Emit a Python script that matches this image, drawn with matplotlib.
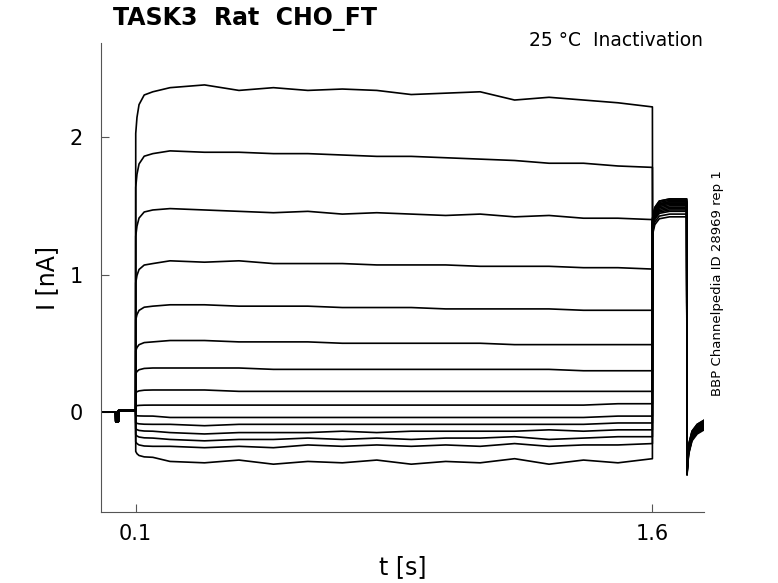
import numpy as np
import matplotlib.pyplot as plt

# holding segment before the step (same for all sweeps)
hold_t = [0.0, 0.042, 0.0425, 0.05, 0.0505, 0.1]
hold_i = [0.0, 0.0, -0.07, -0.07, 0.01, 0.01]

# activation at the start of the step, fraction of the early level
rise_t = [0.1004, 0.104, 0.11, 0.125]
rise_frac = [0.87, 0.92, 0.96, 0.99]

# step segment (nA)
pulse_t = [0.15, 0.2, 0.3, 0.4, 0.5, 0.6, 0.7, 0.8, 0.9, 1.0, 1.1, 1.2, 1.3, 1.4, 1.5, 1.6]
sweeps = [
    [2.33, 2.36, 2.38, 2.34, 2.36, 2.34, 2.35, 2.34, 2.31, 2.32, 2.33, 2.27, 2.29, 2.27, 2.25, 2.22],
    [1.88, 1.90, 1.89, 1.89, 1.88, 1.88, 1.87, 1.86, 1.86, 1.85, 1.84, 1.83, 1.81, 1.81, 1.79, 1.78],
    [1.47, 1.48, 1.47, 1.46, 1.45, 1.46, 1.44, 1.45, 1.44, 1.43, 1.44, 1.42, 1.43, 1.41, 1.41, 1.40],
    [1.08, 1.10, 1.09, 1.10, 1.08, 1.08, 1.08, 1.07, 1.07, 1.07, 1.06, 1.06, 1.06, 1.05, 1.05, 1.04],
    [0.77, 0.78, 0.78, 0.77, 0.77, 0.77, 0.76, 0.76, 0.76, 0.75, 0.75, 0.75, 0.75, 0.74, 0.74, 0.74],
    [0.51, 0.52, 0.52, 0.51, 0.51, 0.51, 0.50, 0.50, 0.50, 0.50, 0.50, 0.49, 0.49, 0.49, 0.49, 0.49],
    [0.32, 0.32, 0.32, 0.32, 0.31, 0.31, 0.31, 0.31, 0.31, 0.31, 0.31, 0.31, 0.31, 0.30, 0.30, 0.30],
    [0.16, 0.16, 0.16, 0.15, 0.15, 0.15, 0.15, 0.15, 0.15, 0.15, 0.15, 0.15, 0.15, 0.15, 0.15, 0.15],
    [0.05, 0.05, 0.05, 0.05, 0.05, 0.05, 0.05, 0.05, 0.05, 0.05, 0.05, 0.05, 0.05, 0.05, 0.06, 0.06],
    [-0.03, -0.04, -0.04, -0.04, -0.04, -0.04, -0.04, -0.04, -0.04, -0.04, -0.04, -0.04, -0.04, -0.04, -0.03, -0.03],
    [-0.09, -0.09, -0.10, -0.09, -0.09, -0.09, -0.09, -0.09, -0.09, -0.09, -0.09, -0.09, -0.09, -0.09, -0.08, -0.08],
    [-0.14, -0.15, -0.16, -0.15, -0.15, -0.15, -0.14, -0.15, -0.14, -0.14, -0.14, -0.14, -0.13, -0.14, -0.13, -0.13],
    [-0.19, -0.20, -0.21, -0.20, -0.20, -0.19, -0.20, -0.19, -0.20, -0.19, -0.19, -0.18, -0.20, -0.19, -0.18, -0.18],
    [-0.25, -0.25, -0.26, -0.25, -0.26, -0.24, -0.25, -0.24, -0.25, -0.24, -0.25, -0.23, -0.25, -0.24, -0.24, -0.23],
    [-0.33, -0.36, -0.37, -0.35, -0.38, -0.36, -0.37, -0.35, -0.38, -0.36, -0.37, -0.34, -0.38, -0.35, -0.37, -0.34],
]

# test pulse after the step
tail_t = [1.6005, 1.607, 1.62, 1.65, 1.675, 1.6995]
tail_frac = [0.91, 0.96, 0.99, 1.0, 1.0, 1.0]
tail_level = [1.42, 1.44, 1.46, 1.47, 1.48, 1.49, 1.50, 1.51, 1.52, 1.52, 1.53, 1.53, 1.54, 1.55, 1.55]

# back to holding
off_t = [1.7005, 1.705, 1.715, 1.73, 1.75]
off_i = [-0.42, -0.27, -0.17, -0.12, -0.09]
off_shift = [-0.04, -0.03, -0.03, -0.02, -0.02, -0.01, -0.01, 0.0, 0.0, 0.01, 0.01, 0.02, 0.02, 0.03, 0.03]

fig = plt.figure(figsize=(7.78, 5.83), dpi=100)
ax = fig.add_axes([0.130, 0.122, 0.775, 0.804])

for k, s in enumerate(sweeps):
    t = hold_t + rise_t + pulse_t + tail_t + off_t
    i = (hold_i
         + [f * s[0] for f in rise_frac]
         + s
         + [f * tail_level[k] for f in tail_frac]
         + [v + off_shift[k] for v in off_i])
    ax.plot(t, i, color='black', lw=1.2)

ax.set_xlim(0, 1.75)
ax.set_ylim(-0.727, 2.684)
ax.set_xticks([0.1, 1.6])
ax.set_xticklabels(['0.1', '1.6'])
ax.set_yticks([0, 1, 2])
ax.tick_params(axis='y', direction='in', length=6, labelsize=15, pad=13)
ax.tick_params(axis='x', direction='in', length=6, labelsize=15, pad=9)
ax.spines['top'].set_visible(False)
ax.spines['right'].set_visible(False)
for sp in ['left', 'bottom']:
    ax.spines[sp].set_color('#555555')
    ax.spines[sp].set_linewidth(0.8)
ax.tick_params(color='#555555')

ax.set_xlabel('t [s]', fontsize=17, labelpad=8)
ax.set_ylabel('I [nA]', fontsize=17, labelpad=8)

fig.text(0.145, 0.968, 'TASK3  Rat  CHO_FT', fontsize=17, fontweight='bold',
         ha='left', va='center')
fig.text(0.903, 0.930, '25 °C  Inactivation', fontsize=13.5, ha='right', va='center')
fig.text(0.922, 0.515, 'BBP Channelpedia ID 28969 rep 1', fontsize=9.5,
         rotation=90, ha='center', va='center')

fig.savefig('out.png', dpi=100)
